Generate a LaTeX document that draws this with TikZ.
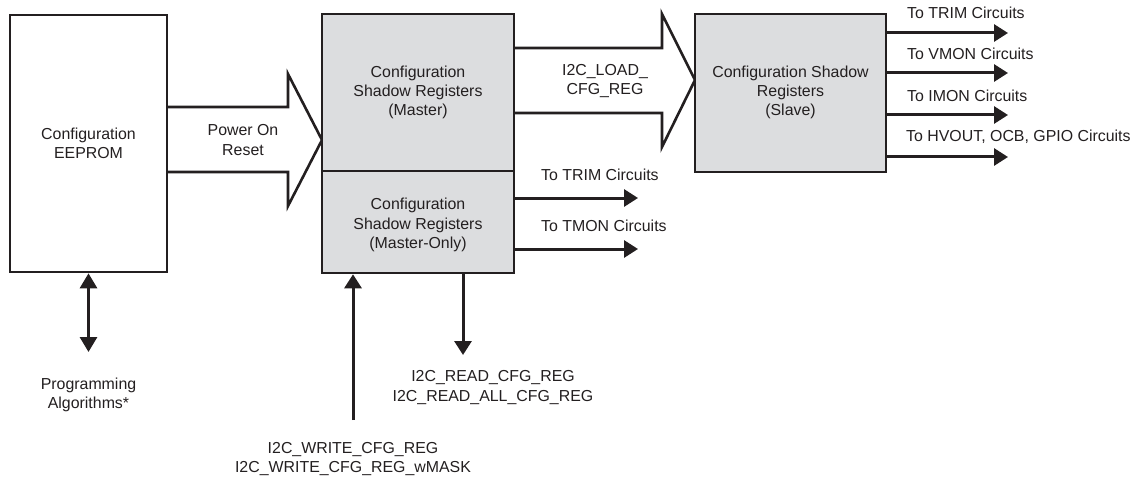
\documentclass[tikz,border=0pt]{standalone}
\usepackage{fontspec}
\setmainfont{Liberation Sans}
\usetikzlibrary{arrows.meta}
\definecolor{boxgray}{RGB}{220,221,223}
\definecolor{ink}{RGB}{35,31,32}
\begin{document}
\begin{tikzpicture}[x=1pt,y=-1pt,
  every node/.style={font=\fontsize{15.9}{19.2}\selectfont, text=ink},
  blk/.style={draw=ink, line width=2.6pt, align=center, inner sep=0pt},
  gblk/.style={blk, fill=boxgray},
  bigarrow/.style={draw=ink, line width=2.6pt, fill=white, line join=miter},
  arr/.style={draw=ink, line width=3pt, -{Triangle[length=14pt,width=17pt]}},
  darr/.style={draw=ink, line width=3pt, {Triangle[length=15pt,width=17pt]}-{Triangle[length=15pt,width=17pt]}},
  lbl/.style={align=center, inner sep=0pt},
  wlbl/.style={anchor=west, inner sep=0pt}]
\useasboundingbox (0,0) rectangle (1134,481);

% big arrows (shapes)
\draw[bigarrow] (167,107) -- (288,107) -- (288,74) -- (322,140) -- (288,206) -- (288,172) -- (167,172);
\draw[bigarrow] (514,48) -- (662,48) -- (662,14) -- (695,80) -- (662,147) -- (662,113) -- (514,113);

% boxes
\node[blk, minimum width=157pt, minimum height=257pt] (eeprom) at (88.5,143.5) {};
\node[lbl] (eepromtxt) at (88.5,143) {Configuration\\EEPROM};
\node[gblk, minimum width=192pt, minimum height=157pt] (master) at (418,92.5) {};
\node[lbl] (mastertxt) at (418,92.5) {Configuration\\Shadow Registers\\(Master)};
\node[gblk, minimum width=192pt, minimum height=102pt] (mo) at (418,222) {};
\node[lbl] (motxt) at (418,225) {Configuration\\Shadow Registers\\(Master-Only)};
\node[gblk, minimum width=191pt, minimum height=158pt] (slave) at (790.5,93) {};
\node[lbl] (slavetxt) at (790.5,92.5) {Configuration Shadow\\Registers\\(Slave)};

% big arrow labels
\node[lbl] (portxt) at (243,140) {Power On\\Reset};
\node[lbl] (loadtxt) at (605,81) {I2C\_LOAD\_\\CFG\_REG};

% slave outputs
\coordinate (s1) at (1008,33);
\coordinate (s2) at (1008,73);
\coordinate (s3) at (1008,115);
\coordinate (s4) at (1008,157);
\draw[arr] ([yshift=60pt]slave.east) -- (s1);
\draw[arr] ([yshift=20pt]slave.east) -- (s2);
\draw[arr] ([yshift=-22pt]slave.east) -- (s3);
\draw[arr] ([yshift=-64pt]slave.east) -- (s4);
\node[wlbl] (sl1) at (907,13) {To TRIM Circuits};
\node[wlbl] (sl2) at (907,54) {To VMON Circuits};
\node[wlbl] (sl3) at (907,96) {To IMON Circuits};
\node[wlbl] (sl4) at (906,137) {To HVOUT, OCB, GPIO Circuits};

% master-only outputs
\coordinate (m1) at (638,198);
\coordinate (m2) at (638,249);
\draw[arr] ([yshift=24pt]mo.east) -- (m1);
\draw[arr] ([yshift=-27pt]mo.east) -- (m2);
\node[wlbl] (ml1) at (541,175) {To TRIM Circuits};
\node[wlbl] (ml2) at (541,226) {To TMON Circuits};

% read / write
\coordinate (rd) at (463,355);
\draw[arr] ([xshift=45pt]mo.south) -- (rd);
\node[lbl] (readtxt) at (493,387.5) {I2C\_READ\_CFG\_REG\\I2C\_READ\_ALL\_CFG\_REG};
\coordinate (wr) at (353,420);
\draw[arr] (wr) -- ([xshift=-65pt]mo.south);
\node[lbl] (writetxt) at (353,459) {I2C\_WRITE\_CFG\_REG\\I2C\_WRITE\_CFG\_REG\_wMASK};

% programming
\coordinate (pg) at (88.5,352);
\draw[darr] (eeprom.south) -- (pg);
\node[lbl] (progtxt) at (88.5,395) {Programming\\Algorithms*};
\end{tikzpicture}
\end{document}
